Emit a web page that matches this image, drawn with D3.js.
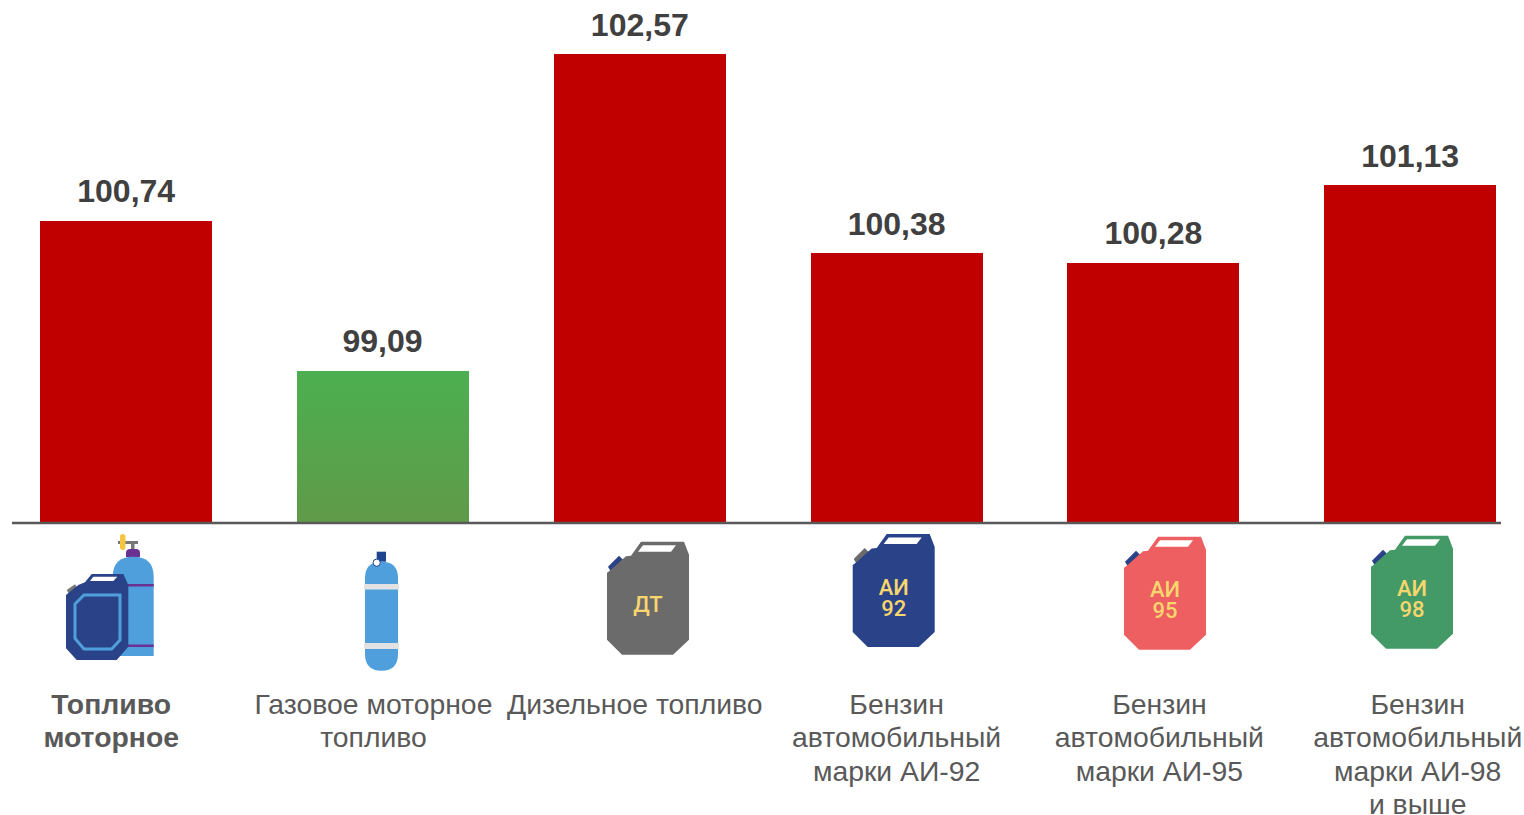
<!DOCTYPE html>
<html lang="ru"><head><meta charset="utf-8">
<script src="https://cdnjs.cloudflare.com/ajax/libs/d3/7.9.0/d3.min.js"></script>
<style>html,body{margin:0;padding:0;background:#fff;overflow:hidden}svg{display:block}</style>
</head><body><svg id="c" width="1524" height="815"></svg>
<script>
const categories = ["Топливо моторное","Газовое моторное топливо","Дизельное топливо","Бензин автомобильный марки АИ-92","Бензин автомобильный марки АИ-95","Бензин автомобильный марки АИ-98 и выше"];
const values = [100.74,99.09,102.57,100.38,100.28,101.13];
const valueLabels = ["100,74","99,09","102,57","100,38","100,28","101,13"];
const labelLines = [["Топливо","моторное"],["Газовое моторное","топливо"],["Дизельное топливо"],["Бензин","автомобильный","марки АИ-92"],["Бензин","автомобильный","марки АИ-95"],["Бензин","автомобильный","марки АИ-98","и выше"]];
const jerryTexts = [["ДТ"],["АИ","92"],["АИ","95"],["АИ","98"]];

const svg = d3.select("#c");
const FONT = "'Liberation Sans', Arial, sans-serif";
const x = d3.scaleBand().domain(categories).range([-2.2,1538.6]).paddingInner(0.33).paddingOuter(0.165);
const y = d3.scaleLinear().domain([97.42,102.57]).range([523,54]);
const labelDx = [-15,-9.5,-5,0,6,7.5];   // label centre offset from the bar centre
const valueDx = [0,-0.5,0,0,0,0];
const valueDy = [-18.7,-19,-18,-18.2,-19,-18];

const grad = svg.append("defs").append("linearGradient").attr("id","g").attr("x1",0).attr("y1",0).attr("x2",0).attr("y2",1);
grad.append("stop").attr("offset","0%").attr("stop-color","#4CAF50");
grad.append("stop").attr("offset","100%").attr("stop-color","#609A49");

svg.selectAll("rect.bar").data(categories).join("rect").attr("class","bar")
  .attr("x",d=>Math.round(x(d))).attr("width",Math.round(x.bandwidth()))
  .attr("y",(d,i)=>Math.round(y(values[i]))).attr("height",(d,i)=>y.range()[0]-Math.round(y(values[i])))
  .attr("fill",(d,i)=>i===1?"url(#g)":"#C00000");

svg.append("line").attr("x1",12).attr("x2",1501).attr("y1",523).attr("y2",523).attr("stroke","#595959").attr("stroke-width",2.4);

svg.selectAll("text.val").data(categories).join("text").attr("class","val")
  .attr("x",(d,i)=>x(d)+x.bandwidth()/2+valueDx[i]).attr("y",(d,i)=>y(values[i])+valueDy[i])
  .attr("text-anchor","middle").attr("font-family",FONT).attr("font-weight",700).attr("font-size",32).attr("fill","#404040")
  .text((d,i)=>valueLabels[i]);

categories.forEach((c,i)=>{
  const t = svg.append("text").attr("text-anchor","middle").attr("font-family",FONT).attr("font-size",28.35)
    .attr("font-weight",i===0?700:400).attr("fill","#595959");
  labelLines[i].forEach((l,j)=>t.append("tspan").attr("x",x(c)+x.bandwidth()/2+labelDx[i]).attr("y",713.5+j*33.5).text(l));
});

// Pictograms
const body = "M0,31L4,28L15,18L19,14.5L24,14L34,0L77,0L82,13L82,98L66,113L15,113L0,98Z";
const win = "M31,10L64,10L69,3.5L36,3.5Z";
const cap = "M1,25L12,14L17,19L4,30Z";
const jerries = [
  {x:607,y:541.7,fill:"#6B6B6B",cap:"#2A4288"},
  {x:852.7,y:534,fill:"#2A4288",cap:"#6B6B6B"},
  {x:1124,y:536.7,fill:"#EE5F62",cap:"#2A4288"},
  {x:1371,y:535.7,fill:"#449A66",cap:"#2A4288"}];
jerries.forEach((d,i)=>{
  const g = svg.append("g").attr("transform",`translate(${d.x},${d.y})`);
  g.append("path").attr("d",cap).attr("fill",d.cap);
  g.append("path").attr("d",body).attr("fill",d.fill);
  g.append("path").attr("d",win).attr("fill","#fff");
  const lines = jerryTexts[i];
  const t = g.append("text").attr("text-anchor","middle").attr("font-family","Roboto, sans-serif").attr("font-weight",500)
    .attr("font-size",22).attr("fill","#F8D66D");
  lines.forEach((l,j)=>t.append("tspan").attr("x",41).attr("y",lines.length===1?70.5:(j===0?60.5:81.5)).text(l));
});

// Mixed pictogram: cylinder with jerrycan
const m = svg.append("g");
m.append("rect").attr("x",118).attr("y",541).attr("width",20).attr("height",3).attr("fill","#777");
m.append("rect").attr("x",120).attr("y",534).attr("width",5.5).attr("height",16).attr("rx",2.7).attr("fill","#F5C542");
m.append("rect").attr("x",131).attr("y",541).attr("width",3.5).attr("height",9).attr("fill","#777");
m.append("path").attr("d","M126,557L126,553Q126,549 130,549L136,549Q140,549 140,553L140,557Z").attr("fill","#6A3092");
m.append("path").attr("d","M112.7,656L112.7,577Q112.7,556.7 133.2,556.7Q153.7,556.7 153.7,577L153.7,656Z").attr("fill","#4F9FDC");
m.append("rect").attr("x",118).attr("y",584).attr("width",35.7).attr("height",2.5).attr("fill","#6A3092");
m.append("rect").attr("x",118).attr("y",644.5).attr("width",35.7).attr("height",2.5).attr("fill","#6A3092");
m.append("path").attr("d","M66.7,590L75,584.3L77.7,588.3L69.3,594.3Z").attr("fill","#777");
m.append("path").attr("d","M66,595L70,591.7L78.3,585L85,582.3L91.7,574L123.3,574L128.3,585L128.3,646.7L116.7,660L76.7,660L66,648.3Z").attr("fill","#2A4288");
m.append("path").attr("d","M90,581L113.3,581L117.3,576.7L93.3,576.7Z").attr("fill","#fff");
m.append("path").attr("d","M75,604L84,595L120,595L120,640L111.7,649L84,649L75,638.5Z").attr("fill","none").attr("stroke","#4F9FDC").attr("stroke-width",3);

// Pictogram: gas cylinder
const n = svg.append("g");
n.append("rect").attr("x",376.7).attr("y",551.7).attr("width",9.3).attr("height",10).attr("fill","#1F4490");
n.append("path").attr("d","M365,578Q365,561.7 381.5,561.7Q398,561.7 398,578L398,654Q398,670.7 381.5,670.7Q365,670.7 365,654Z").attr("fill","#4F9FDC");
n.append("rect").attr("x",364).attr("y",584).attr("width",35).attr("height",5.5).attr("fill","#E2E2E2");
n.append("rect").attr("x",364).attr("y",643).attr("width",35).attr("height",6).attr("fill","#E2E2E2");
n.append("circle").attr("cx",376.7).attr("cy",562.7).attr("r",3.6).attr("fill","#fff").attr("stroke","#1F4490").attr("stroke-width",1);
</script></body></html>
